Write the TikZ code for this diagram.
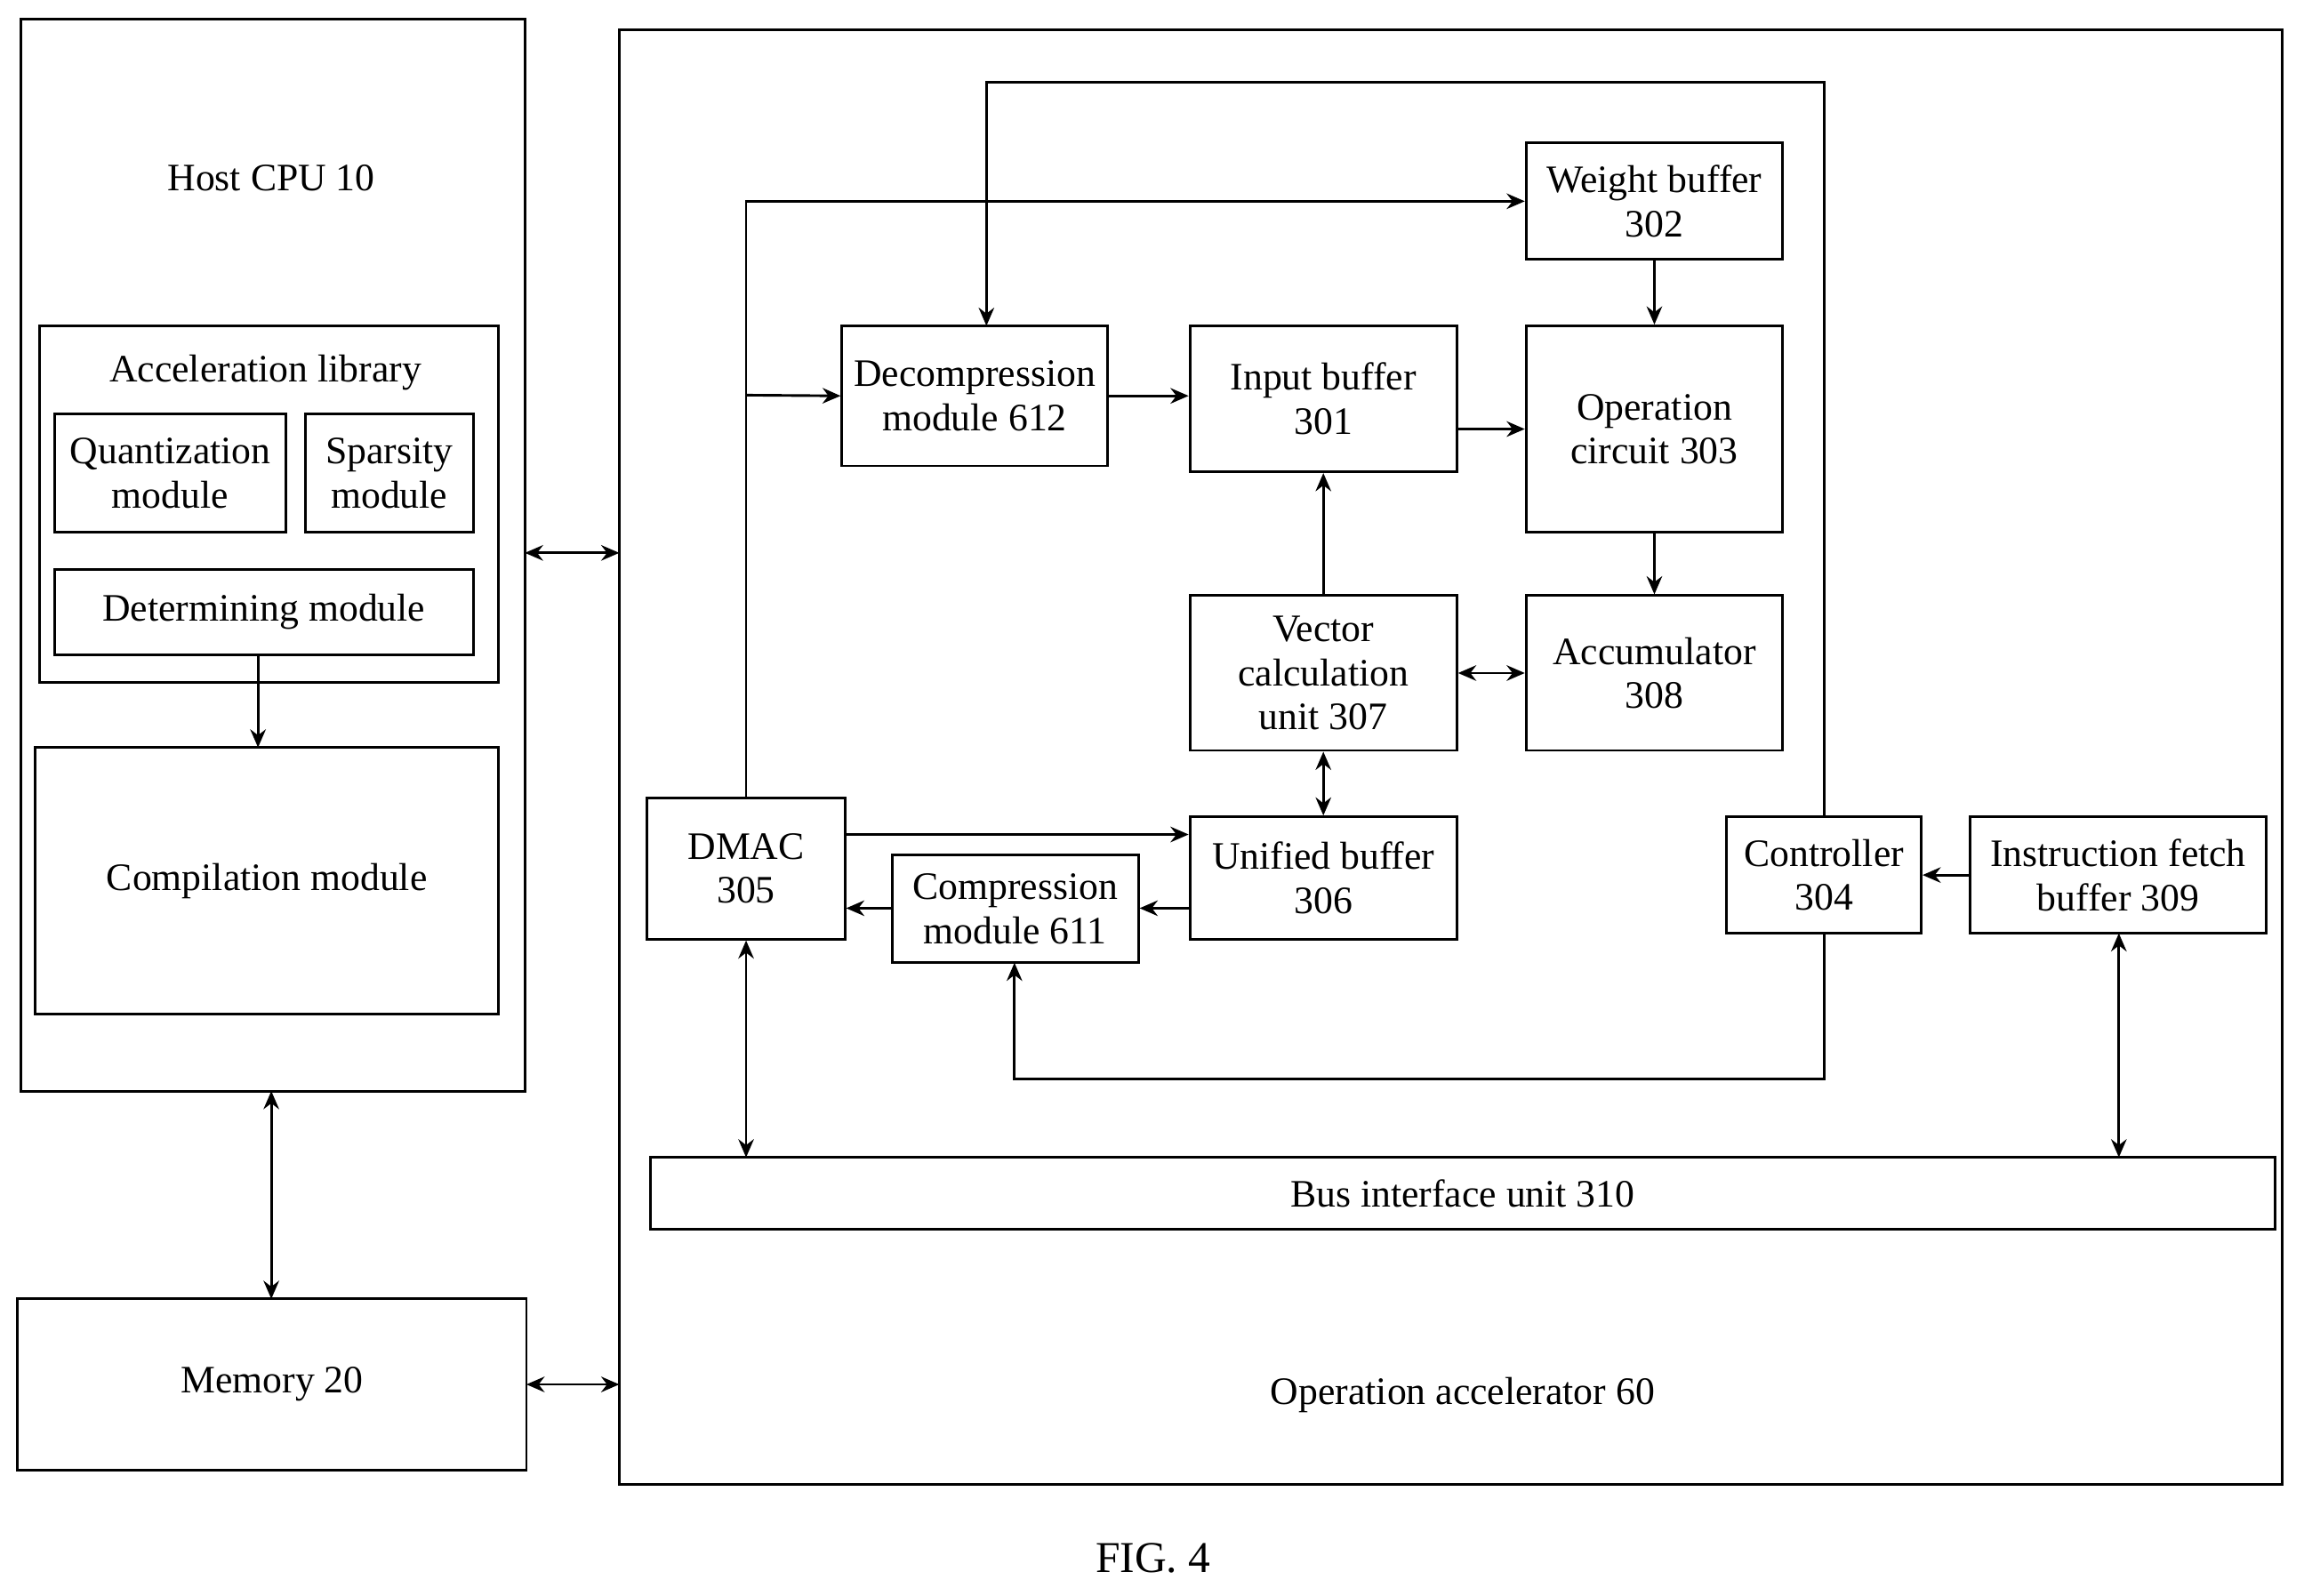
\documentclass[tikz,border=0pt]{standalone}
\usepackage{fontspec}
\setmainfont{Liberation Serif}
\usetikzlibrary{arrows.meta, positioning}

\tikzset{
  box/.style={draw, line width=1pt, align=center, inner sep=0pt, font=\fontsize{15}{17}\selectfont},
  conn/.style={line width=1pt, -{Stealth[length=7pt,width=6pt]}},
  biconn/.style={line width=1pt, {Stealth[length=7pt,width=6pt]}-{Stealth[length=7pt,width=6pt]}},
  lbl/.style={font=\fontsize{15}{17}\selectfont}
}
% box from corner (x1,y1) to (x2,y2), pixel units
\newcommand{\pbox}[6]{\node[box, minimum width={(#4-#2)*0.02cm}, minimum height={(#5-#3)*0.02cm}] (#1) at ({(#2+#4)/2},{(#3+#5)/2}) {#6};}

\begin{document}
\begin{tikzpicture}[x=0.02cm, y=-0.02cm]
  \useasboundingbox (0,0) rectangle (1568,1082);

  % Host side
  \pbox{host}{14}{13}{356}{740}{}
  \node[lbl] (hostlbl) at (184,121) {Host CPU 10};
  \pbox{acclib}{27}{221}{338}{463}{}
  \node[lbl] (acclbl) at (180,253) {Acceleration library};
  \pbox{quant}{37}{281}{194}{361}{Quantization\\module}
  \pbox{spars}{207}{281}{321}{361}{Sparsity\\module}
  \pbox{determ}{37}{386}{321}{444}{Determining module}
  \pbox{compil}{24}{507}{338}{688}{Compilation module}
  \pbox{mem}{12}{881}{357}{997}{Memory 20}

  % Accelerator
  \pbox{accel}{420}{20}{1548}{1007}{}
  \node[lbl] (accellbl) at (992,946) {Operation accelerator 60};
  \pbox{weight}{1035}{97}{1209}{176}{Weight buffer\\302}
  \pbox{decomp}{571}{221}{751}{316}{Decompression\\module 612}
  \pbox{input}{807}{221}{988}{320}{Input buffer\\301}
  \pbox{opcirc}{1035}{221}{1209}{361}{Operation\\circuit 303}
  \pbox{vector}{807}{404}{988}{509}{Vector\\calculation\\unit 307}
  \pbox{accum}{1035}{404}{1209}{509}{Accumulator\\308}
  \pbox{dmac}{439}{541}{573}{637}{DMAC\\305}
  \pbox{unified}{807}{554}{988}{637}{Unified buffer\\306}
  \pbox{comp}{605}{580}{772}{653}{Compression\\module 611}
  \pbox{ctrl}{1171}{554}{1303}{633}{Controller\\304}
  \pbox{ifetch}{1336}{554}{1537}{633}{Instruction fetch\\buffer 309}
  \pbox{bus}{441}{785}{1543}{834}{Bus interface unit 310}
  \node[font=\fontsize{17}{19}\selectfont] (fig) at (782,1057) {FIG. 4};

  % Connectors
  \coordinate (branch) at (506,268);
  \draw[conn] (dmac.north) |- (weight.west);
  \draw[conn] (branch) -- (decomp.west);
  \draw[conn] (decomp.east) -- (input.west |- decomp.east);
  \draw[conn] (988,291) -- (opcirc.west |- 0,291);
  \draw[conn] (weight.south) -- (opcirc.north);
  \draw[conn] (opcirc.south) -- (accum.north);
  \draw[conn] (vector.north) -- (input.south);
  \draw[biconn] (vector.east) -- (accum.west);
  \draw[biconn] (vector.south) -- (unified.north);
  \draw[conn] (573,566) -- (unified.west |- 0,566);
  \draw[conn] (807,616) -- (comp.east |- 0,616);
  \draw[conn] (comp.west |- 0,616) -- (dmac.east |- 0,616);
  \draw[conn] (ctrl.north) -- (1237,56) -| (669,221);
  \draw[conn] (ctrl.south) -- (1237,732) -| (688,653);
  \draw[conn] (ifetch.west) -- (ctrl.east);
  \draw[biconn] (dmac.south) -- (506,785);
  \draw[biconn] (1437,633) -- (1437,785);
  \draw[biconn] (356,375) -- (420,375);
  \draw[biconn] (357,939) -- (420,939);
  \draw[biconn] (184,740) -- (184,881);
  \draw[conn] (175,444) -- (175,507);
\end{tikzpicture}
\end{document}
